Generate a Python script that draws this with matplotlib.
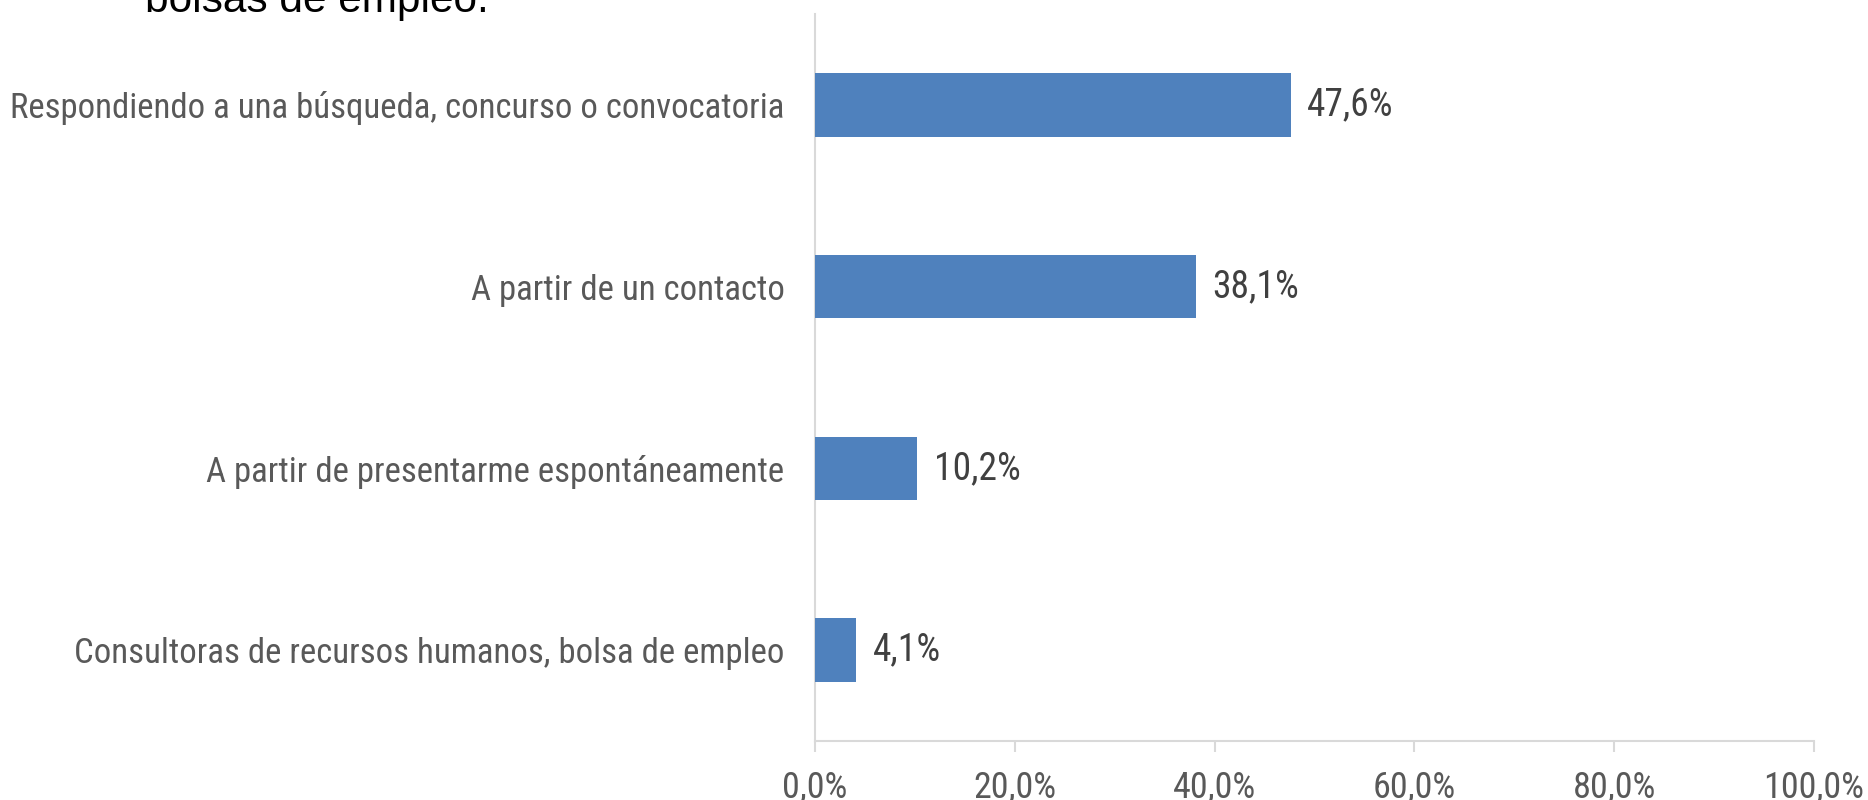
import matplotlib
matplotlib.use("Agg")
import matplotlib.pyplot as plt
from matplotlib import font_manager as fm

categories = [
    "Respondiendo a una búsqueda, concurso o convocatoria",
    "A partir de un contacto",
    "A partir de presentarme espontáneamente",
    "Consultoras de recursos humanos, bolsa de empleo",
]
values = [47.6, 38.1, 10.2, 4.1]
xticks = [0, 20, 40, 60, 80, 100]
xtick_labels = ["0,0%", "20,0%", "40,0%", "60,0%", "80,0%", "100,0%"]
title_fragment = "bolsas de empleo."

entries = fm.fontManager.ttflist
narrow = None
for pref in ["Liberation Sans Narrow", "Roboto Condensed", "Open Sans Condensed", "DejaVu Sans Condensed"]:
    if any(f.name == pref for f in entries):
        narrow = pref
        break
if narrow is None:
    cond = [f for f in entries if f.stretch in ("condensed", "semi-condensed", "extra-condensed")
            or (isinstance(f.stretch, int) and f.stretch < 500)]
    if cond:
        narrow = cond[0].name

if narrow:
    fam = [narrow, "DejaVu Sans"]
    cat_size, val_size, tick_size = 25, 27, 26
else:
    fam = ["Liberation Sans", "DejaVu Sans"]
    cat_size, val_size, tick_size = 22, 22, 22
plt.rcParams['font.family'] = fam

fig = plt.figure(figsize=(18.68, 8), dpi=100)
ax = fig.add_axes([815/1868, 59/800, (1814-815)/1868, (741-14)/800])

ypos = list(range(len(categories)))
ax.barh(ypos, values, height=0.35, color="#4F81BD", zorder=3)
ax.set_ylim(len(categories) - 0.5, -0.5)
ax.set_xlim(0, 100)
ax.set_yticks(ypos)
ax.set_yticklabels(categories)
ax.set_xticks(xticks)
ax.set_xticklabels(xtick_labels)

for y, v in zip(ypos, values):
    ax.annotate(f"{v:.1f}".replace(".", ",") + "%", (v, y), xytext=(12, 0),
                textcoords="offset points", va="center", ha="left",
                fontsize=val_size, color="#404040")

for s in ["top", "right"]:
    ax.spines[s].set_visible(False)
for s in ["left", "bottom"]:
    ax.spines[s].set_color("#D9D9D9")
    ax.spines[s].set_linewidth(1.5)
ax.tick_params(axis="y", length=0, pad=22, labelsize=cat_size, labelcolor="#595959")
ax.tick_params(axis="x", length=8, width=1.5, color="#D9D9D9", pad=13,
               labelsize=tick_size, labelcolor="#595959")

fig.text(145/1868, 1 - 12/800, title_fragment, fontsize=30.5, color="black",
         ha="left", va="baseline", family=["Liberation Sans", "DejaVu Sans"])

fig.savefig("out.png", dpi=100)
